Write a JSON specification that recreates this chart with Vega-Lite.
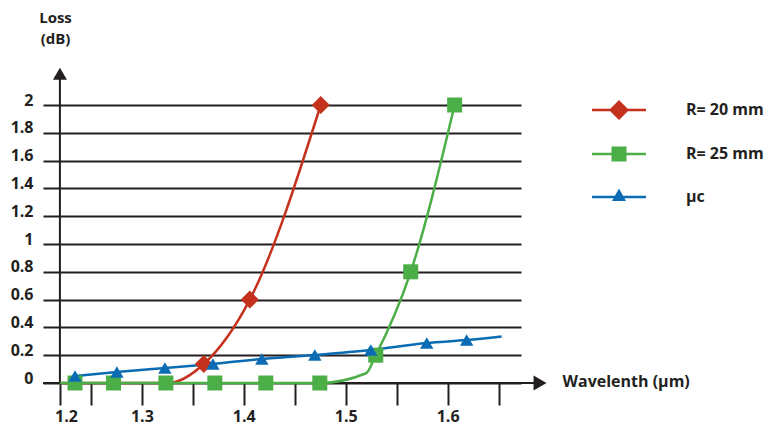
{
  "$schema": "https://vega.github.io/schema/vega-lite/v6.json",
  "width": 478,
  "height": 278,
  "autosize": {"type": "none"},
  "padding": {"left": 43, "top": 105, "right": 250, "bottom": 47},
  "background": "white",
  "config": {
    "view": {"stroke": null},
    "font": "Open Sans"
  },
  "data": {
    "values": [
      {"series": "R= 20 mm", "x": 1.2196, "y": 0, "kind": "guide"},
      {"series": "R= 20 mm", "x": 1.3255, "y": 0, "kind": "guide"},
      {"series": "R= 20 mm", "x": 1.3608, "y": 0.137, "kind": "measured"},
      {"series": "R= 20 mm", "x": 1.4059, "y": 0.6, "kind": "measured"},
      {"series": "R= 20 mm", "x": 1.4755, "y": 2.0, "kind": "measured"},
      {"series": "R= 25 mm", "x": 1.2196, "y": 0, "kind": "guide"},
      {"series": "R= 25 mm", "x": 1.2344, "y": 0, "kind": "measured"},
      {"series": "R= 25 mm", "x": 1.2722, "y": 0, "kind": "measured"},
      {"series": "R= 25 mm", "x": 1.3236, "y": 0, "kind": "measured"},
      {"series": "R= 25 mm", "x": 1.3716, "y": 0, "kind": "measured"},
      {"series": "R= 25 mm", "x": 1.4216, "y": 0, "kind": "measured"},
      {"series": "R= 25 mm", "x": 1.4746, "y": 0, "kind": "measured"},
      {"series": "R= 25 mm", "x": 1.52, "y": 0.07, "kind": "guide"},
      {"series": "R= 25 mm", "x": 1.5295, "y": 0.2, "kind": "measured"},
      {"series": "R= 25 mm", "x": 1.5638, "y": 0.8, "kind": "measured"},
      {"series": "R= 25 mm", "x": 1.6069, "y": 2.0, "kind": "measured"},
      {"series": "μc", "x": 1.2344, "y": 0.05, "kind": "measured"},
      {"series": "μc", "x": 1.2755, "y": 0.079, "kind": "measured"},
      {"series": "μc", "x": 1.3226, "y": 0.108, "kind": "measured"},
      {"series": "μc", "x": 1.3697, "y": 0.137, "kind": "measured"},
      {"series": "μc", "x": 1.4177, "y": 0.173, "kind": "measured"},
      {"series": "μc", "x": 1.4697, "y": 0.201, "kind": "measured"},
      {"series": "μc", "x": 1.5246, "y": 0.237, "kind": "measured"},
      {"series": "μc", "x": 1.5795, "y": 0.288, "kind": "measured"},
      {"series": "μc", "x": 1.6187, "y": 0.309, "kind": "measured"},
      {"series": "μc", "x": 1.653, "y": 0.335, "kind": "guide"}
    ]
  },
  "layer": [
    {
      "data": {"values": [{}]},
      "mark": {"type": "rule", "color": "#231f20", "strokeWidth": 2},
      "encoding": {
        "x": {"datum": 1.2196, "type": "quantitative", "scale": {"domain": [1.203, 1.672], "nice": false, "zero": false}},
        "y": {"datum": 0, "type": "quantitative", "scale": {"domain": [0, 2], "nice": false, "zero": false}},
        "y2": {"datum": 2.2}
      }
    },
    {
      "data": {"values": [{}]},
      "mark": {"type": "rule", "color": "#231f20", "strokeWidth": 2},
      "encoding": {
        "x": {"datum": 1.203, "type": "quantitative", "scale": {"domain": [1.203, 1.672], "nice": false, "zero": false}},
        "x2": {"datum": 1.686},
        "y": {"datum": 0, "type": "quantitative", "scale": {"domain": [0, 2], "nice": false, "zero": false}}
      }
    },
    {
      "data": {"values": [{}]},
      "mark": {"type": "point", "shape": "triangle-up", "size": 196, "filled": true, "color": "#231f20", "opacity": 1},
      "encoding": {
        "x": {"datum": 1.2196, "type": "quantitative", "scale": {"domain": [1.203, 1.672], "nice": false, "zero": false}},
        "y": {"datum": 2.225, "type": "quantitative", "scale": {"domain": [0, 2], "nice": false, "zero": false}}
      }
    },
    {
      "data": {"values": [{}]},
      "mark": {"type": "point", "shape": "triangle-right", "size": 225, "filled": true, "color": "#231f20", "opacity": 1},
      "encoding": {
        "x": {"datum": 1.6907, "type": "quantitative", "scale": {"domain": [1.203, 1.672], "nice": false, "zero": false}},
        "y": {"datum": 0, "type": "quantitative", "scale": {"domain": [0, 2], "nice": false, "zero": false}}
      }
    },
    {
      "mark": {"type": "line", "interpolate": "monotone", "strokeWidth": 2.5},
      "encoding": {
        "x": {"field": "x", "type": "quantitative", "scale": {"domain": [1.203, 1.672], "nice": false, "zero": false},
          "axis": {
            "title": "Wavelenth (μm)",
            "values": [1.2196, 1.25, 1.3, 1.35, 1.4, 1.45, 1.5, 1.55, 1.6, 1.65],
            "tickCount": 30,
            "domain": false, "grid": false, "labelOverlap": false,
            "ticks": true, "tickSize": 22, "tickWidth": 2, "tickColor": "#231f20",
            "labelExpr": "datum.value < 1.23 ? '1.2' : (abs(datum.value*10 - round(datum.value*10)) < 0.01 ? format(datum.value, '.1f') : '')",
            "labelOffset": {"condition": {"test": "datum.value < 1.23", "value": 6}, "value": 0},
            "labelPadding": 3, "labelBaseline": "top", "labelFontSize": 16, "labelFontWeight": "bold", "labelColor": "#231f20",
            "titleX": 519, "titleY": -2, "titleAlign": "left", "titleBaseline": "middle", "titleAngle": 0,
            "titleFontSize": 16, "titleFontWeight": "bold", "titleColor": "#231f20"
          }
        },
        "y": {"field": "y", "type": "quantitative", "scale": {"domain": [0, 2], "nice": false, "zero": false},
          "axis": {
            "title": ["Loss", "(dB)"],
            "values": [0, 0.2, 0.4, 0.6, 0.8, 1, 1.2, 1.4, 1.6, 1.8, 2],
            "tickCount": 30,
            "format": "~g", "labelOverlap": false,
            "grid": true, "gridColor": "#231f20", "gridWidth": 2, "gridOpacity": 1,
            "domain": false, "ticks": false,
            "labelPadding": 10, "labelOffset": -5, "labelFontSize": 16, "labelFontWeight": "bold", "labelColor": "#231f20",
            "titleAngle": 0, "titleX": 12, "titleY": -95, "titleAlign": "center", "titleBaseline": "top",
            "titleFontSize": 15, "titleFontWeight": "bold", "titleColor": "#231f20", "titleLineHeight": 21
          }
        },
        "color": {"field": "series", "type": "nominal",
          "scale": {"domain": ["R= 20 mm", "R= 25 mm", "μc"], "range": ["#c4321d", "#4cae47", "#0b6cb3"]},
          "legend": {"title": null, "orient": "none", "legendX": 568, "legendY": -3,
            "labelFontSize": 16, "labelFontWeight": "bold", "labelColor": "#231f20", "labelOffset": 59, "labelLimit": 200,
            "rowPadding": 26, "symbolSize": 100, "padding": 0,
            "encode": {"symbols": {"update": {
              "shape": {"signal": "datum.value === 'R= 20 mm' ? 'M-5.4,-0.25L5.4,-0.25L5.4,0.25L-5.4,0.25ZM0,-2L2,0L0,2L-2,0Z' : (datum.value === 'R= 25 mm' ? 'M-5.4,-0.25L5.4,-0.25L5.4,0.25L-5.4,0.25ZM-1.5,-1.5L1.5,-1.5L1.5,1.5L-1.5,1.5Z' : 'M-5.4,-0.25L5.4,-0.25L5.4,0.25L-5.4,0.25ZM0,-1.7L1.4,0.8L-1.4,0.8Z')"},
              "fill": {"signal": "datum.value === 'R= 20 mm' ? '#c4321d' : (datum.value === 'R= 25 mm' ? '#4cae47' : '#0b6cb3')"},
              "stroke": {"value": "transparent"},
              "strokeWidth": {"value": 0},
              "size": {"value": 100},
              "opacity": {"value": 1}
            }}}
          }}
      }
    },
    {
      "transform": [{"filter": "datum.kind == 'measured' && datum.series == 'R= 20 mm'"}],
      "mark": {"type": "point", "filled": true, "opacity": 1, "shape": "diamond", "size": 324},
      "encoding": {
        "x": {"field": "x", "type": "quantitative", "scale": {"domain": [1.203, 1.672], "nice": false, "zero": false}},
        "y": {"field": "y", "type": "quantitative", "scale": {"domain": [0, 2], "nice": false, "zero": false}},
        "color": {"field": "series", "type": "nominal",
          "scale": {"domain": ["R= 20 mm", "R= 25 mm", "μc"], "range": ["#c4321d", "#4cae47", "#0b6cb3"]},
          "legend": null}
      }
    },
    {
      "transform": [{"filter": "datum.kind == 'measured' && datum.series == 'R= 25 mm'"}],
      "mark": {"type": "point", "filled": true, "opacity": 1, "shape": "square", "size": 225},
      "encoding": {
        "x": {"field": "x", "type": "quantitative", "scale": {"domain": [1.203, 1.672], "nice": false, "zero": false}},
        "y": {"field": "y", "type": "quantitative", "scale": {"domain": [0, 2], "nice": false, "zero": false}},
        "color": {"field": "series", "type": "nominal",
          "scale": {"domain": ["R= 20 mm", "R= 25 mm", "μc"], "range": ["#c4321d", "#4cae47", "#0b6cb3"]},
          "legend": null}
      }
    },
    {
      "transform": [{"filter": "datum.kind == 'measured' && datum.series == 'μc'"}],
      "mark": {"type": "point", "filled": true, "opacity": 1, "shape": "triangle-up", "size": 180},
      "encoding": {
        "x": {"field": "x", "type": "quantitative", "scale": {"domain": [1.203, 1.672], "nice": false, "zero": false}},
        "y": {"field": "y", "type": "quantitative", "scale": {"domain": [0, 2], "nice": false, "zero": false}},
        "color": {"field": "series", "type": "nominal",
          "scale": {"domain": ["R= 20 mm", "R= 25 mm", "μc"], "range": ["#c4321d", "#4cae47", "#0b6cb3"]},
          "legend": null}
      }
    }
  ]
}
